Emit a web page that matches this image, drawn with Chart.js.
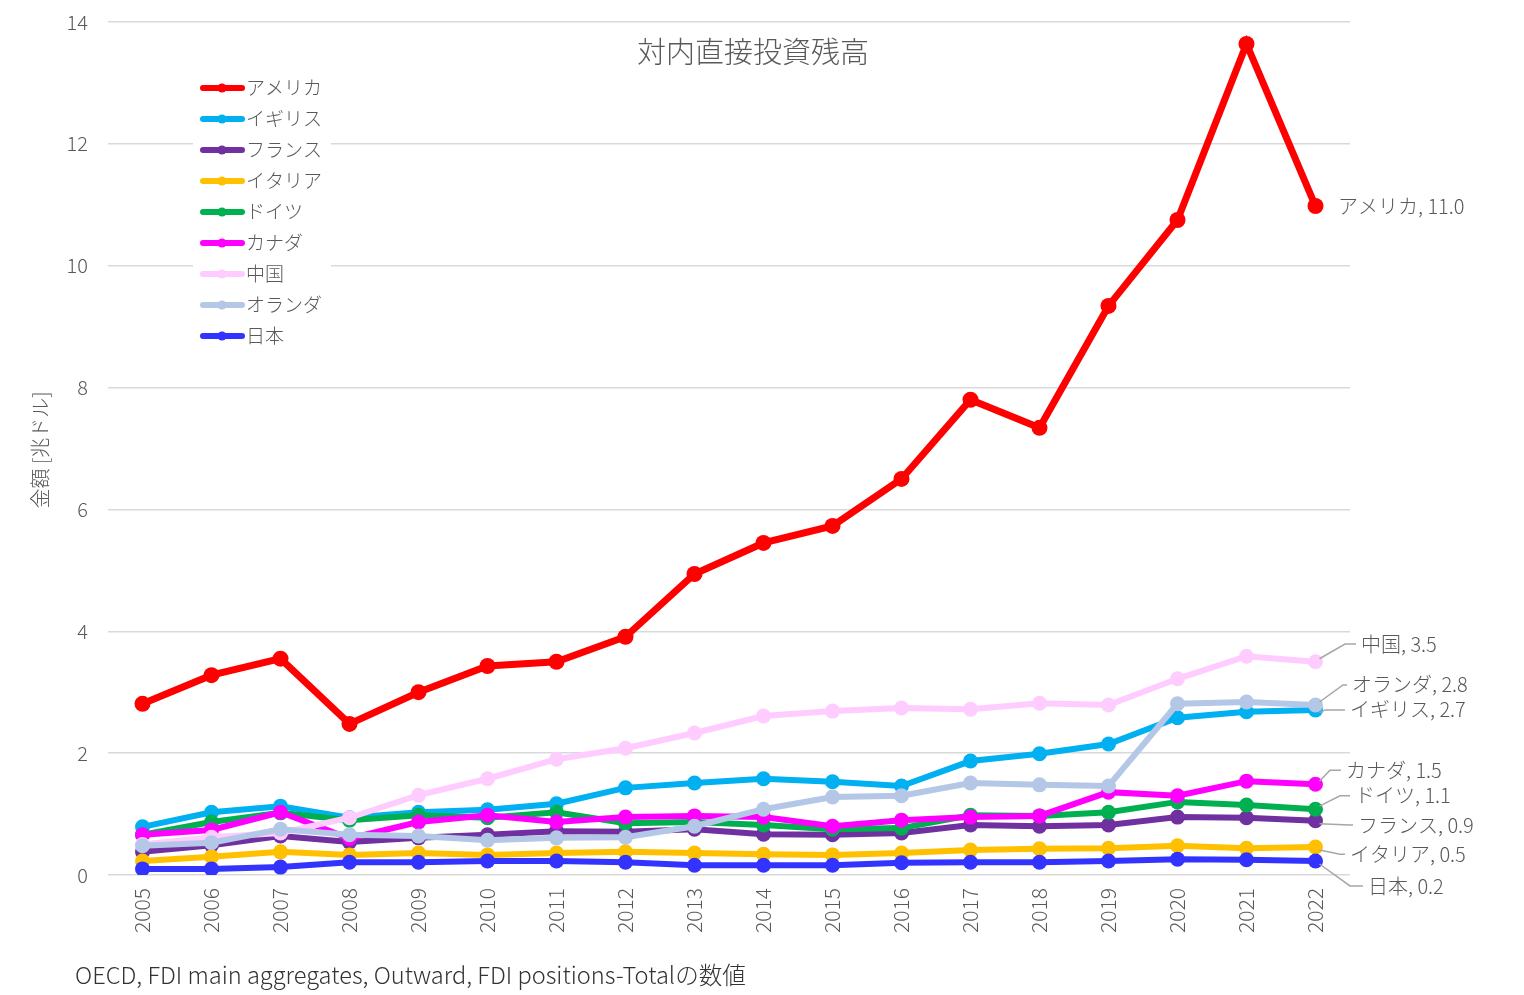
<!DOCTYPE html>
<html><head><meta charset="utf-8">
<script src="https://cdn.jsdelivr.net/npm/chart.js@4.4.1/dist/chart.umd.min.js"></script>
<style>html,body{margin:0;padding:0;background:#fff}#wrap{width:1524px;height:995px}</style>
</head><body><div id="wrap"><canvas id="c" width="1524" height="995"></canvas></div>
<script>
const years = ['2005','2006','2007','2008','2009','2010','2011','2012','2013','2014','2015','2016','2017','2018','2019','2020','2021','2022'];
const seriesNames = ['アメリカ','イギリス','フランス','イタリア','ドイツ','カナダ','中国','オランダ','日本'];
const usa   = [2.81,3.28,3.55,2.48,3.00,3.43,3.50,3.91,4.94,5.45,5.73,6.50,7.80,7.34,9.34,10.75,13.64,10.98];
const uk    = [0.79,1.03,1.13,0.94,1.03,1.07,1.17,1.43,1.51,1.58,1.53,1.46,1.87,1.99,2.15,2.58,2.68,2.71];
const france= [0.38,0.49,0.64,0.54,0.61,0.66,0.72,0.71,0.75,0.67,0.66,0.69,0.82,0.80,0.82,0.95,0.94,0.89];
const italy = [0.23,0.30,0.38,0.33,0.36,0.33,0.36,0.38,0.36,0.34,0.33,0.36,0.41,0.43,0.44,0.48,0.44,0.46];
const germany=[0.66,0.87,1.02,0.90,0.98,0.94,1.03,0.85,0.87,0.82,0.75,0.77,0.98,0.97,1.03,1.20,1.15,1.08];
const canada= [0.66,0.74,1.03,0.60,0.87,0.98,0.87,0.95,0.97,0.95,0.80,0.90,0.95,0.97,1.36,1.30,1.54,1.49];
const china = [0.50,0.62,0.69,0.94,1.31,1.58,1.90,2.08,2.33,2.61,2.69,2.74,2.72,2.82,2.79,3.22,3.59,3.50];
const netherlands=[0.48,0.53,0.75,0.66,0.64,0.57,0.61,0.62,0.80,1.08,1.28,1.30,1.51,1.48,1.46,2.81,2.84,2.79];
const japan = [0.10,0.10,0.13,0.21,0.21,0.23,0.23,0.21,0.16,0.16,0.16,0.20,0.21,0.21,0.23,0.26,0.25,0.23];
const endLabels = ['アメリカ, 11.0','イギリス, 2.7','フランス, 0.9','イタリア, 0.5','ドイツ, 1.1','カナダ, 1.5','中国, 3.5','オランダ, 2.8','日本, 0.2'];
const yTicks = [0,2,4,6,8,10,12,14];

const colors = ['#FF0000','#00B0F0','#7030A0','#FFC000','#00B050','#FF00FF','#FFCCFF','#B4C7E7','#3333FF'];
const allData = [usa,uk,france,italy,germany,canada,china,netherlands,japan];
// label placement (value-space y for text, leader style)
const labelY   = [10.98,2.71,0.82,0.34,1.30,1.72,3.79,3.12,-0.18];
const labelTx  = [1338,1350,1358,1350,1355,1346,1361,1352,1368];
const labelElb = [null,1325,1350,1340,1340,1330,1345,1343,1350];

const FONT = "'Noto Sans CJK JP','Noto Sans',sans-serif";
const W = "300 ";
const GRAY = '#595959';

const datasets = allData.map((d,i)=>({
  label: seriesNames[i], data: d,
  borderColor: colors[i], backgroundColor: colors[i],
  borderWidth: i===0?7:6, pointRadius: i===0?8:7.5, pointHoverRadius: 8,
  pointBorderWidth: 0, tension: 0, order: 9-i
}));

const overlay = {
  id:'overlay',
  afterDraw(chart){
    const ctx = chart.ctx, xs = chart.scales.x, ys = chart.scales.y;
    ctx.save();
    // title
    ctx.fillStyle = GRAY; ctx.font = W+"29px "+FONT; ctx.textAlign='center'; ctx.textBaseline='middle';
    ctx.fillText('対内直接投資残高', 753, 52);
    // y axis title
    ctx.save(); ctx.translate(40, 450); ctx.rotate(-Math.PI/2);
    ctx.font = W+"20px "+FONT; ctx.fillText('金額 [兆ドル]', 0, 0); ctx.restore();
    // footnote
    ctx.textAlign='left'; ctx.fillStyle='#333'; ctx.font = W+"23.6px "+FONT;
    ctx.fillText('OECD, FDI main aggregates, Outward, FDI positions-Totalの数値', 75, 975);
    // legend
    ctx.fillStyle='#fff'; ctx.fillRect(193,72,138,282);
    chart.data.datasets.forEach((ds,i)=>{
      const y = 88 + i*31;
      ctx.strokeStyle = ds.borderColor; ctx.lineWidth = 6; ctx.lineCap='round';
      ctx.beginPath(); ctx.moveTo(203,y); ctx.lineTo(242,y); ctx.stroke();
      ctx.fillStyle = ds.borderColor; ctx.beginPath(); ctx.arc(222,y,4.5,0,Math.PI*2); ctx.fill();
      ctx.fillStyle = GRAY; ctx.font = W+"19px "+FONT; ctx.textAlign='left'; ctx.textBaseline='middle';
      ctx.fillText(ds.label, 246, y);
    });
    // end labels
    const last = years.length-1;
    chart.data.datasets.forEach((ds,i)=>{
      const px = xs.getPixelForValue(last), py = ys.getPixelForValue(ds.data[last]);
      const ty = ys.getPixelForValue(labelY[i]);
      const tx = labelTx[i];
      if (labelElb[i] !== null){
        ctx.strokeStyle='#a6a6a6'; ctx.lineWidth=1.5; ctx.lineCap='butt';
        ctx.beginPath(); ctx.moveTo(px+4, py + (ty<py?-3:3)); ctx.lineTo(labelElb[i], ty); ctx.lineTo(tx-5, ty); ctx.stroke();
      }
      ctx.fillStyle = GRAY; ctx.font = W+"20px "+FONT; ctx.textAlign='left'; ctx.textBaseline='middle';
      ctx.fillText(endLabels[i], tx, ty);
    });
    ctx.restore();
  }
};

new Chart(document.getElementById('c'), {
  type:'line',
  data:{ labels: years, datasets },
  options:{
    responsive:false, animation:false, devicePixelRatio:1,
    layout:{ padding:{ left:20, right:174, top:22, bottom:45 } },
    plugins:{ legend:{display:false}, tooltip:{enabled:false}, title:{display:false} },
    scales:{
      x:{ offset:true,
        grid:{ display:false, drawTicks:false }, border:{display:false},
        ticks:{ color:GRAY, font:{family:FONT,size:21,weight:300}, minRotation:90, maxRotation:90, padding:13 },
        afterFit(s){ s.height = 75; s.paddingLeft = 0; s.paddingRight = 0; } },
      y:{ min:0, max:14,
        afterBuildTicks(s){ s.ticks = yTicks.map(v=>({value:v})); },
        grid:{ color:'#d9d9d9', lineWidth:1.5, drawTicks:false }, border:{display:false},
        ticks:{ color:GRAY, font:{family:FONT,size:20,weight:300}, padding:20 },
        afterFit(s){ s.width = 88; s.paddingTop = 0; s.paddingBottom = 0; } }
    }
  },
  plugins:[overlay]
});
</script></body></html>
